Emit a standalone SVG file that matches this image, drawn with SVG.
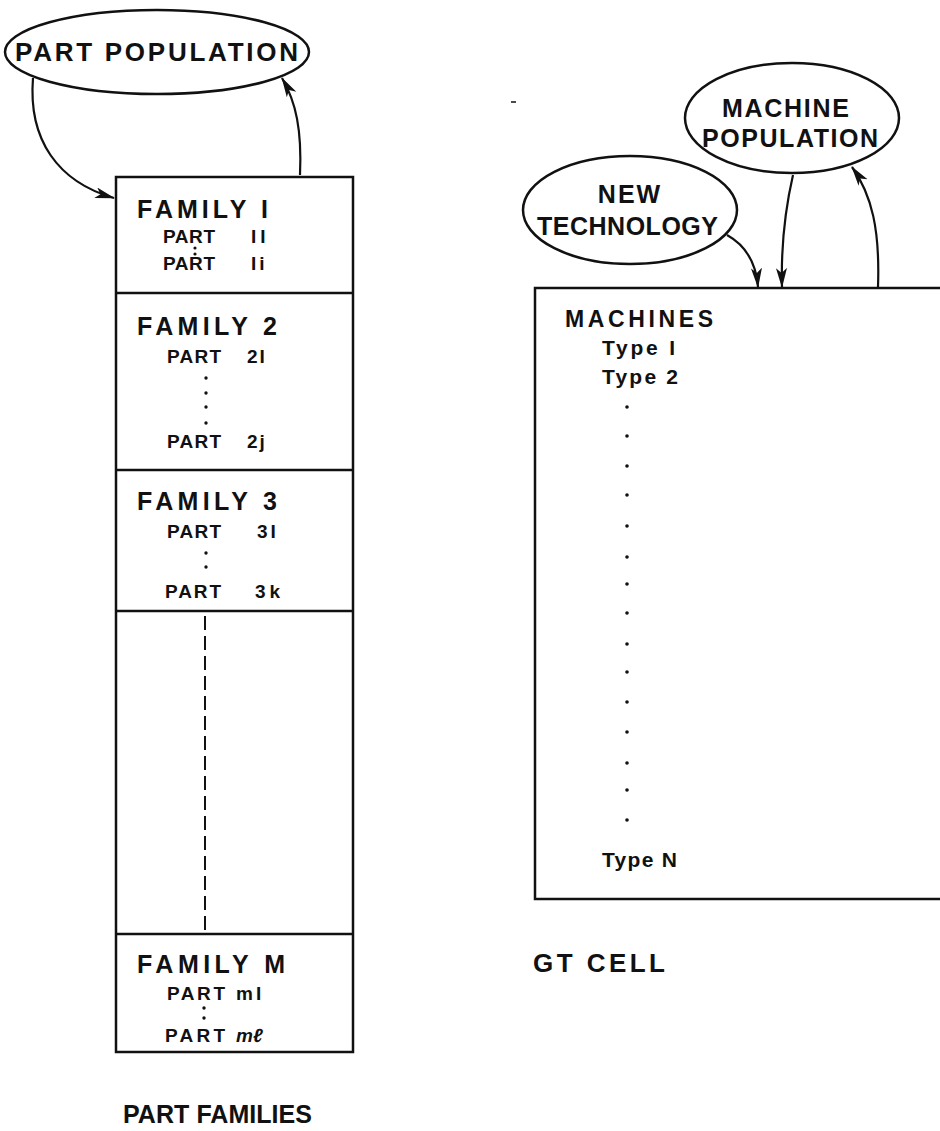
<svg xmlns="http://www.w3.org/2000/svg" width="940" height="1131" viewBox="0 0 940 1131">
<defs>
<style>
.t{font-family:"Liberation Sans",Arial,sans-serif;font-weight:bold;fill:#111}
.big{font-size:25px}
.sm{font-size:19px}
.ty{font-size:21px}
.box{fill:none;stroke:#111;stroke-width:2.5}
.ell{fill:#fff;stroke:#111;stroke-width:2.5}
.con{fill:none;stroke:#111;stroke-width:2.2}
.dot{fill:#111}
</style>
<marker id="ah" markerUnits="userSpaceOnUse" markerWidth="22" markerHeight="12" refX="19" refY="5.5" orient="auto">
<path d="M0,0 L20,5.5 L0,11 L5,5.5 z" fill="#111"/>
</marker>
</defs>
<rect width="940" height="1131" fill="#fff"/>

<g id="connectors">
<path class="con" d="M33,78 C28,140 58,182 114,198" marker-end="url(#ah)"/>
<path class="con" d="M300,175 C302,130 296,102 282,78" marker-end="url(#ah)"/>
<path class="con" d="M727,235 C745,245 756,262 758,287" marker-end="url(#ah)"/>
<path class="con" d="M793,175 C785,210 781,250 782,287" marker-end="url(#ah)"/>
<path class="con" d="M878,287 C880,230 872,195 852,167" marker-end="url(#ah)"/>
</g>

<g id="part-population">
<ellipse class="ell" cx="157" cy="52" rx="152" ry="42"/>
<text class="t" x="15" y="61" font-size="26" textLength="283" lengthAdjust="spacing">PART POPULATION</text>
</g>

<g id="new-technology">
<ellipse class="ell" cx="630" cy="210" rx="107" ry="54"/>
<text class="t big" x="630" y="203" text-anchor="middle" letter-spacing="2">NEW</text>
<text class="t big" x="537" y="235" textLength="181" lengthAdjust="spacing">TECHNOLOGY</text>
</g>

<g id="machine-population">
<ellipse class="ell" cx="792" cy="118" rx="107" ry="55"/>
<text class="t big" x="722" y="117" textLength="127" lengthAdjust="spacing">MACHINE</text>
<text class="t big" x="702" y="147" textLength="176" lengthAdjust="spacing">POPULATION</text>
</g>

<g id="part-families">
<rect class="box" x="116" y="177" width="237" height="875"/>
<line class="box" x1="116" y1="293" x2="353" y2="293"/>
<line class="box" x1="116" y1="470" x2="353" y2="470"/>
<line class="box" x1="116" y1="611" x2="353" y2="611"/>
<line class="box" x1="116" y1="934" x2="353" y2="934"/>
</g>

<g id="family-1">
<text class="t big" x="137" y="218" textLength="131" lengthAdjust="spacing">FAMILY I</text>
<text class="t sm" x="163" y="243" textLength="52" lengthAdjust="spacing">PART</text>
<text class="t sm" x="251" y="243" letter-spacing="4">II</text>
<circle class="dot" cx="195" cy="248" r="1.6"/>
<text class="t sm" x="163" y="270" textLength="52" lengthAdjust="spacing">PART</text>
<circle class="dot" cx="195" cy="254" r="1.6"/>
<text class="t sm" x="251" y="270" letter-spacing="3">Ii</text>
</g>

<g id="family-2">
<text class="t big" x="137" y="335" textLength="140" lengthAdjust="spacing">FAMILY 2</text>
<text class="t sm" x="167" y="363" textLength="54" lengthAdjust="spacing">PART</text>
<text class="t sm" x="247" y="363" letter-spacing="2">2I</text>
<circle class="dot" cx="206" cy="378" r="1.7"/>
<circle class="dot" cx="206" cy="393" r="1.7"/>
<circle class="dot" cx="206" cy="407" r="1.7"/>
<circle class="dot" cx="206" cy="423" r="1.7"/>
<text class="t sm" x="167" y="448" textLength="54" lengthAdjust="spacing">PART</text>
<text class="t sm" x="247" y="448" letter-spacing="2">2j</text>
</g>

<g id="family-3">
<text class="t big" x="137" y="510" textLength="140" lengthAdjust="spacing">FAMILY 3</text>
<text class="t sm" x="167" y="538" textLength="54" lengthAdjust="spacing">PART</text>
<text class="t sm" x="257" y="538" letter-spacing="3">3I</text>
<circle class="dot" cx="206" cy="553" r="1.7"/>
<circle class="dot" cx="206" cy="567" r="1.7"/>
<text class="t sm" x="165" y="598" textLength="56" lengthAdjust="spacing">PART</text>
<text class="t sm" x="255" y="598" letter-spacing="4">3k</text>
</g>

<g id="ellipsis">
<line x1="205" y1="616" x2="205" y2="930" stroke="#111" stroke-width="2" stroke-dasharray="14 6"/>
</g>

<g id="family-m">
<text class="t big" x="137" y="973" textLength="148" lengthAdjust="spacing">FAMILY M</text>
<text class="t sm" x="167" y="1000" textLength="58" lengthAdjust="spacing">PART</text>
<text class="t sm" x="236" y="1000" letter-spacing="3">mI</text>
<circle class="dot" cx="204" cy="1008" r="1.7"/>
<circle class="dot" cx="204" cy="1018" r="1.7"/>
<text class="t sm" x="165" y="1042" textLength="60" lengthAdjust="spacing">PART</text>
<text class="t sm" x="236" y="1042" font-style="italic">mℓ</text>
</g>

<g id="part-families-label">
<text class="t" x="123" y="1123" font-size="25" textLength="189" lengthAdjust="spacing">PART FAMILIES</text>
</g>

<g id="gt-cell">
<rect class="box" x="535" y="288" width="420" height="611"/>
<text class="t" x="565" y="327" font-size="23" textLength="148" lengthAdjust="spacing">MACHINES</text>
<text class="t ty" x="602" y="355" textLength="73" lengthAdjust="spacing">Type I</text>
<text class="t ty" x="602" y="384" textLength="76" lengthAdjust="spacing">Type 2</text>
<g class="dot">
<circle cx="627" cy="407" r="1.8"/>
<circle cx="627" cy="436" r="1.8"/>
<circle cx="627" cy="466" r="1.8"/>
<circle cx="627" cy="495" r="1.8"/>
<circle cx="627" cy="526" r="1.8"/>
<circle cx="627" cy="557" r="1.8"/>
<circle cx="627" cy="584" r="1.8"/>
<circle cx="627" cy="613" r="1.8"/>
<circle cx="627" cy="644" r="1.8"/>
<circle cx="627" cy="672" r="1.8"/>
<circle cx="627" cy="702" r="1.8"/>
<circle cx="627" cy="732" r="1.8"/>
<circle cx="627" cy="763" r="1.8"/>
<circle cx="627" cy="790" r="1.8"/>
<circle cx="627" cy="820" r="1.8"/>
</g>
<text class="t ty" x="602" y="867" textLength="75" lengthAdjust="spacing">Type N</text>
</g>

<g id="gt-cell-label">
<text class="t" x="533" y="972" font-size="26" textLength="132" lengthAdjust="spacing">GT CELL</text>
</g>

<line x1="511" y1="102" x2="516" y2="102" stroke="#111" stroke-width="1.5"/>
</svg>
